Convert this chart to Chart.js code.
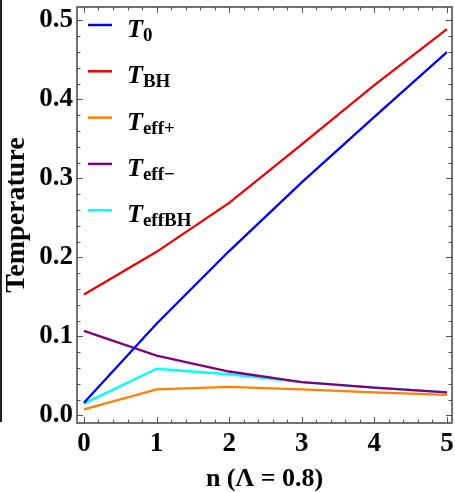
<!DOCTYPE html>
<html>
<head>
<meta charset="utf-8">
<script src="https://cdn.jsdelivr.net/npm/chart.js@4.4.1/dist/chart.umd.min.js"></script>
<style>
  html, body { margin: 0; padding: 0; background: #fff; }
  #wrap { position: relative; width: 455px; height: 492px; }
  #edge { position: absolute; left: 0; top: 0; width: 2px; height: 422px; background: #222; }
</style>
</head>
<body>
<div id="wrap">
  <canvas id="tempChart" width="455" height="492"></canvas>
  <div id="edge"></div>
</div>
<script>
const nValues = [0, 1, 2, 3, 4, 5];
const T0 = [0.016, 0.116, 0.208, 0.295, 0.378, 0.460];
const TBH = [0.153, 0.207, 0.269, 0.343, 0.418, 0.489];
const TeffPlus = [0.0075, 0.033, 0.036, 0.033, 0.029, 0.026];
const TeffMinus = [0.107, 0.0756, 0.0555, 0.042, 0.035, 0.029];
const TeffBH = [0.0148, 0.059, 0.052, 0.042, 0.035, 0.029];
const xTicks = [0, 1, 2, 3, 4, 5];
const yTicks = [0, 0.1, 0.2, 0.3, 0.4, 0.5];

const series = [
  { sub: '0', values: T0, color: '#0000ee' },
  { sub: 'BH', values: TBH, color: '#ee0000' },
  { sub: 'eff+', values: TeffPlus, color: '#ff8000' },
  { sub: 'eff\u2212', values: TeffMinus, color: '#800080' },
  { sub: 'effBH', values: TeffBH, color: '#00ffff' }
];

const serif = '"Liberation Serif", "DejaVu Serif", serif';

// frame + inward ticks on all four sides, Mathematica style
const frameTicks = {
  id: 'frameTicks',
  afterDraw(chart) {
    const { ctx, chartArea: a, scales: { x, y } } = chart;
    ctx.save();
    ctx.strokeStyle = '#555';
    ctx.lineWidth = 1;
    ctx.beginPath();
    for (let v = 0; v <= 5.0001; v += 0.2) {
      const px = Math.round(x.getPixelForValue(v)) + 0.5;
      const major = Math.abs(v - Math.round(v)) < 1e-6;
      const len = major ? 6 : 3.5;
      ctx.moveTo(px, a.bottom); ctx.lineTo(px, a.bottom - len);
      ctx.moveTo(px, a.top); ctx.lineTo(px, a.top + len);
    }
    for (let i = 0; i <= 25; i++) {
      const v = i * 0.02;
      const py = Math.round(y.getPixelForValue(v)) + 0.5;
      const len = i % 5 === 0 ? 6 : 3.5;
      ctx.moveTo(a.left, py); ctx.lineTo(a.left + len, py);
      ctx.moveTo(a.right, py); ctx.lineTo(a.right - len, py);
    }
    ctx.stroke();
    ctx.strokeStyle = '#444';
    ctx.lineWidth = 1.5;
    ctx.strokeRect(a.left, a.top, a.right - a.left, a.bottom - a.top);
    ctx.restore();
  }
};

// legend with subscripts drawn inside the plot
const subLegend = {
  id: 'subLegend',
  afterDraw(chart) {
    const { ctx } = chart;
    ctx.save();
    chart.data.datasets.forEach((ds, i) => {
      const yy = 25 + i * 46.3;
      ctx.strokeStyle = ds.borderColor;
      ctx.lineWidth = 2.5;
      ctx.beginPath();
      ctx.moveTo(88, yy); ctx.lineTo(112, yy);
      ctx.stroke();
      ctx.fillStyle = '#000';
      ctx.textBaseline = 'alphabetic';
      ctx.font = 'italic bold 26px ' + serif;
      ctx.fillText('T', 127, yy + 12);
      const w = ctx.measureText('T').width;
      ctx.font = 'bold 19px ' + serif;
      ctx.fillText(series[i].sub, 127 + w, yy + 16);
    });
    ctx.restore();
  }
};

const noPad = axis => {
  axis.paddingLeft = 0; axis.paddingRight = 0;
  axis.paddingTop = 0; axis.paddingBottom = 0;
};

new Chart(document.getElementById('tempChart'), {
  type: 'line',
  data: {
    datasets: series.map(s => ({
      label: 'T' + s.sub,
      data: nValues.map((n, i) => ({ x: n, y: s.values[i] })),
      borderColor: s.color,
      backgroundColor: s.color,
      borderWidth: 2.3,
      pointRadius: 0,
      tension: 0,
      fill: false
    }))
  },
  options: {
    responsive: false,
    animation: false,
    layout: { padding: { top: 7, right: 3, left: 0, bottom: 0 } },
    plugins: {
      legend: { display: false },
      tooltip: { enabled: false }
    },
    scales: {
      x: {
        type: 'linear',
        min: -0.096,
        max: 5.07,
        afterBuildTicks: axis => { axis.ticks = xTicks.map(v => ({ value: v })); },
        afterFit: axis => { axis.height = 69; noPad(axis); },
        grid: { display: false, drawTicks: false },
        border: { display: false },
        ticks: {
          color: '#000',
          padding: 5,
          maxRotation: 0,
          font: { family: serif, weight: 'bold', size: 27 },
          callback: v => String(v)
        },
        title: {
          display: true,
          text: 'n (\u039B = 0.8)',
          color: '#000',
          padding: { top: 0, bottom: 0 },
          font: { family: serif, weight: 'bold', size: 26, lineHeight: 1 }
        }
      },
      y: {
        type: 'linear',
        min: -0.0097,
        max: 0.517,
        afterBuildTicks: axis => { axis.ticks = yTicks.map(v => ({ value: v })); },
        afterFit: axis => { axis.width = 77; noPad(axis); },
        grid: { display: false, drawTicks: false },
        border: { display: false },
        ticks: {
          color: '#000',
          padding: 4,
          font: { family: serif, weight: 'bold', size: 27 },
          callback: v => v.toFixed(1)
        },
        title: {
          display: true,
          text: 'Temperature',
          color: '#000',
          padding: { top: 3, bottom: 0 },
          font: { family: serif, weight: 'bold', size: 28, lineHeight: 1 }
        }
      }
    }
  },
  plugins: [frameTicks, subLegend]
});
</script>
</body>
</html>
